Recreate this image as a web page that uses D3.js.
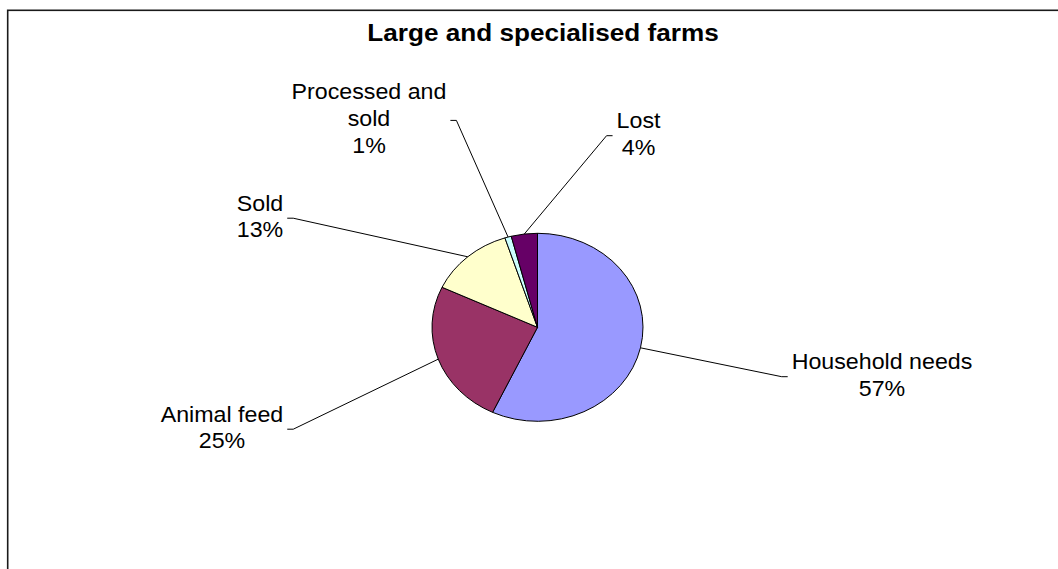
<!DOCTYPE html>
<html>
<head>
<meta charset="utf-8">
<script src="https://cdn.jsdelivr.net/npm/d3@7"></script>
<style>
  html, body { margin: 0; padding: 0; background: #fff; }
  svg { display: block; }
  text { font-family: Arial, "Liberation Sans", sans-serif; fill: #000; }
</style>
</head>
<body>
<svg id="chart" width="1058" height="569"></svg>
<script>
// ---- data ----
const title = "Large and specialised farms";
const categories = ["Household needs", "Animal feed", "Sold", "Processed and sold", "Lost"];
const labelLines = [["Household needs"], ["Animal feed"], ["Sold"], ["Processed and", "sold"], ["Lost"]];
const values = [57, 25, 13, 1, 4];
const colors = ["#9999FF", "#993366", "#FFFFCC", "#CCFFFF", "#660066"];

// ---- layout (not data) ----
const W = 1058, H = 569;
const cx = 537.5, cy = 327.3, rx = 105.5, ry = 94;
const sx = 1.08; // horizontal stretch of text
// label anchors: center x, first-line baseline y, side where leader attaches
const labelLayout = [
  { x: 882, y: 369, side: "left" },
  { x: 222, y: 421.5, side: "right" },
  { x: 260, y: 210.5, side: "right" },
  { x: 369, y: 99.3, side: "right" },
  { x: 638.5, y: 128, side: "left" }
];
const lineH = 26.8;
const fontSize = 21.5;

const svg = d3.select("#chart");

// frame
svg.append("rect")
  .attr("x", 7.7).attr("y", 10.3)
  .attr("width", 1200).attr("height", 1000)
  .attr("fill", "none").attr("stroke", "#1a1a1a").attr("stroke-width", 1.6);

// title
svg.append("text")
  .attr("transform", `translate(543,41) scale(${sx},1)`)
  .attr("text-anchor", "middle")
  .attr("font-weight", "bold")
  .attr("font-size", 24.2)
  .text(title);

// pie
const pie = d3.pie().sort(null).value(d => d)(values);
const arc = d3.arc().innerRadius(0).outerRadius(ry);
const g = svg.append("g").attr("transform", `translate(${cx},${cy}) scale(${rx / ry},1)`);
g.selectAll("path").data(pie).join("path")
  .attr("d", arc)
  .attr("fill", (d, i) => colors[i])
  .attr("stroke", "#000")
  .attr("stroke-width", 1)
  .attr("vector-effect", "non-scaling-stroke");

// labels
const total = d3.sum(values);
pie.forEach((d, i) => {
  const L = labelLayout[i];
  const lines = labelLines[i].concat([Math.round(d.value / total * 100) + "%"]);
  const tg = svg.append("g").attr("transform", `translate(${L.x},${L.y}) scale(${sx},1)`);
  let maxW = 0;
  lines.forEach((ln, k) => {
    const t = tg.append("text")
      .attr("x", 0).attr("y", k * lineH)
      .attr("text-anchor", "middle")
      .attr("font-size", fontSize)
      .text(ln);
    maxW = Math.max(maxW, t.node().getComputedTextLength() * sx);
  });
  // leader line
  const mid = (d.startAngle + d.endAngle) / 2;
  const px = cx + rx * Math.sin(mid), py = cy - ry * Math.cos(mid);
  const top = L.y - fontSize * 0.75;
  const bottom = L.y + (lines.length - 1) * lineH + fontSize * 0.22;
  const my = (top + bottom) / 2;
  const edge = L.side === "left" ? L.x - maxW / 2 - 4 : L.x + maxW / 2 + 4;
  const elbow = L.side === "left" ? edge - 6 : edge + 6;
  svg.append("path")
    .attr("d", d3.line()([[px, py], [elbow, my], [edge, my]]))
    .attr("fill", "none")
    .attr("stroke", "#000")
    .attr("stroke-width", 1);
});
</script>
</body>
</html>
